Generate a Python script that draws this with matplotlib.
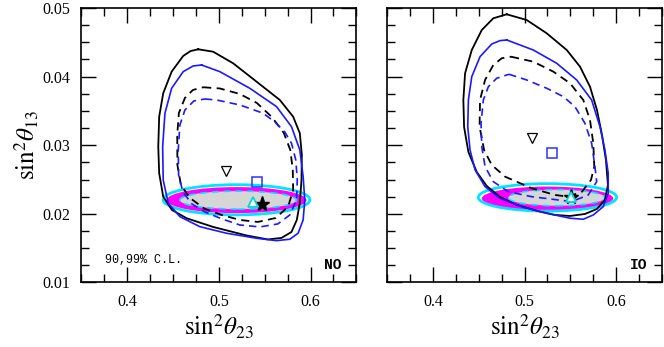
import numpy as np
import matplotlib.pyplot as plt
from matplotlib.patches import Ellipse
from matplotlib.ticker import MultipleLocator

plt.rcParams['font.family'] = 'Liberation Serif'
plt.rcParams['mathtext.fontset'] = 'stix'

# contours: (sin^2 th23, sin^2 th13)
no_black_solid = [
    (0.4774, 0.04398), (0.4937, 0.04363), (0.5155, 0.04194), (0.5411, 0.03926),
    (0.5665, 0.03659), (0.5810, 0.03416), (0.5883, 0.03174), (0.5905, 0.02858),
    (0.5901, 0.02494), (0.5883, 0.02159), (0.5850, 0.01911), (0.5792, 0.01736),
    (0.5683, 0.01649), (0.5534, 0.01627), (0.5301, 0.01685), (0.4937, 0.01809),
    (0.4647, 0.01936), (0.4487, 0.02057), (0.4392, 0.02251), (0.4348, 0.02591),
    (0.4338, 0.02979), (0.4348, 0.03416), (0.4392, 0.03757), (0.4484, 0.04072),
    (0.4610, 0.04301), (0.4690, 0.04372)]
no_blue_solid = [
    (0.4811, 0.04169), (0.5010, 0.04072), (0.5337, 0.03830), (0.5629, 0.03562),
    (0.5792, 0.03270), (0.5883, 0.02931), (0.5919, 0.02542), (0.5937, 0.02202),
    (0.5919, 0.01911), (0.5864, 0.01717), (0.5774, 0.01630), (0.5629, 0.01609),
    (0.5411, 0.01644), (0.5083, 0.01717), (0.4792, 0.01813), (0.4574, 0.01959),
    (0.4447, 0.02154), (0.4392, 0.02494), (0.4386, 0.02979), (0.4411, 0.03466),
    (0.4484, 0.03830), (0.4610, 0.04072), (0.4719, 0.04155)]
no_black_dashed = [
    (0.4828, 0.03845), (0.5010, 0.03827), (0.5228, 0.03747), (0.5414, 0.03616),
    (0.5577, 0.03412), (0.5708, 0.03179), (0.5779, 0.02931), (0.5806, 0.02640),
    (0.5810, 0.02348), (0.5755, 0.02105), (0.5621, 0.01940), (0.5425, 0.01882),
    (0.5228, 0.01911), (0.5029, 0.01984), (0.4847, 0.02071), (0.4683, 0.02232),
    (0.4585, 0.02421), (0.4547, 0.02712), (0.4545, 0.03150), (0.4563, 0.03470),
    (0.4629, 0.03689), (0.4716, 0.03805)]
no_blue_dashed = [
    (0.4847, 0.03674), (0.4974, 0.03659), (0.5228, 0.03587), (0.5483, 0.03466),
    (0.5610, 0.03339), (0.5719, 0.03193), (0.5792, 0.03029), (0.5839, 0.02785),
    (0.5855, 0.02494), (0.5847, 0.02202), (0.5774, 0.01984), (0.5643, 0.01853),
    (0.5447, 0.01809), (0.5228, 0.01838), (0.5032, 0.01926), (0.4847, 0.02028),
    (0.4705, 0.02144), (0.4607, 0.02319), (0.4560, 0.02567), (0.4556, 0.02931),
    (0.4574, 0.03295), (0.4629, 0.03514), (0.4727, 0.03645)]

io_black_solid = [
    (0.4805, 0.04908), (0.5023, 0.04825), (0.5242, 0.04631), (0.5460, 0.04388),
    (0.5605, 0.04145), (0.5714, 0.03853), (0.5790, 0.03514), (0.5845, 0.03150),
    (0.5888, 0.02785), (0.5910, 0.02421), (0.5877, 0.02202), (0.5790, 0.02071),
    (0.5659, 0.01998), (0.5496, 0.01969), (0.5332, 0.01984), (0.5168, 0.02032),
    (0.4914, 0.02130), (0.4732, 0.02246), (0.4587, 0.02406), (0.4478, 0.02610),
    (0.4387, 0.02902), (0.4340, 0.03266), (0.4332, 0.03659), (0.4351, 0.04049),
    (0.4424, 0.04388), (0.4533, 0.04679), (0.4659, 0.04850)]
io_blue_solid = [
    (0.4805, 0.04534), (0.5095, 0.04388), (0.5351, 0.04194), (0.5569, 0.03951),
    (0.5732, 0.03659), (0.5823, 0.03270), (0.5877, 0.02931), (0.5913, 0.02591),
    (0.5913, 0.02300), (0.5859, 0.02105), (0.5750, 0.01984), (0.5641, 0.01921),
    (0.5496, 0.01936), (0.5242, 0.02009), (0.4986, 0.02096), (0.4732, 0.02227),
    (0.4569, 0.02396), (0.4460, 0.02640), (0.4405, 0.02931), (0.4380, 0.03270),
    (0.4387, 0.03659), (0.4424, 0.04000), (0.4514, 0.04290), (0.4642, 0.04475),
    (0.4732, 0.04524)]
io_black_dashed = [
    (0.4852, 0.04290), (0.5095, 0.04218), (0.5314, 0.04072), (0.5496, 0.03903),
    (0.5641, 0.03659), (0.5714, 0.03368), (0.5750, 0.03029), (0.5761, 0.02688),
    (0.5725, 0.02494), (0.5627, 0.02323), (0.5477, 0.02250), (0.5332, 0.02275),
    (0.5078, 0.02373), (0.4787, 0.02542), (0.4642, 0.02712), (0.4558, 0.02931),
    (0.4509, 0.03270), (0.4514, 0.03659), (0.4569, 0.03951), (0.4659, 0.04169),
    (0.4751, 0.04267)]
io_blue_dashed = [
    (0.4830, 0.04034), (0.5023, 0.03951), (0.5242, 0.03830), (0.5423, 0.03708),
    (0.5550, 0.03562), (0.5659, 0.03320), (0.5732, 0.03029), (0.5768, 0.02688),
    (0.5787, 0.02469), (0.5695, 0.02275), (0.5514, 0.02178), (0.5368, 0.02202),
    (0.5078, 0.02250), (0.4823, 0.02323), (0.4659, 0.02469), (0.4569, 0.02688),
    (0.4533, 0.02979), (0.4525, 0.03320), (0.4550, 0.03659), (0.4605, 0.03853),
    (0.4696, 0.03976)]

# reactor regions: (center x, center y, full width, full height)
no_cyan_ell = (0.5192, 0.02205, 0.160, 0.00440)
no_magenta_ell = (0.5192, 0.02200, 0.1527, 0.00380)
no_grey_ell = (0.5210, 0.02200, 0.1273, 0.00262)
io_cyan_ell = (0.5250, 0.02240, 0.151, 0.00400)
io_magenta_ell = (0.5250, 0.02225, 0.1435, 0.00345)
io_grey_ell = (0.5350, 0.02235, 0.1055, 0.00235)

# best-fit points
no_down_tri = (0.5076, 0.0262)
no_square = (0.5421, 0.0246)
no_up_tri = (0.5367, 0.0217)
no_star = (0.5465, 0.0215)
io_down_tri = (0.5085, 0.0311)
io_square = (0.5299, 0.0288)
io_up_tri = (0.5507, 0.0224)
io_star = (0.5507, 0.0224)


def closed(pts):
    a = np.array(pts)
    return np.vstack([a, a[:1]])


def draw_panel(ax, bs, bls, bd, bld, cyan, mag, grey, dtri, sq, utri, star, tag):
    ax.add_patch(Ellipse(mag[:2], mag[2], mag[3], facecolor='#ff00ff',
                         edgecolor='none', zorder=1))
    ax.add_patch(Ellipse(cyan[:2], cyan[2], cyan[3], facecolor='none',
                         edgecolor='#00e5ff', lw=2.0, zorder=1))
    ax.add_patch(Ellipse(grey[:2], grey[2], grey[3], facecolor='#d6d6d6',
                         edgecolor='#00e5ff', lw=1.2, ls=(0, (4, 3)), zorder=1.5))

    c = closed(bs)
    ax.plot(c[:, 0], c[:, 1], color='black', lw=1.3, zorder=3)
    c = closed(bls)
    ax.plot(c[:, 0], c[:, 1], color='#1a1aff', lw=1.2, zorder=3)
    c = closed(bd)
    ax.plot(c[:, 0], c[:, 1], color='black', lw=1.3, ls=(0, (4.5, 3)), zorder=3)
    c = closed(bld)
    ax.plot(c[:, 0], c[:, 1], color='#1a1aff', lw=1.2, ls=(0, (4.5, 3)), zorder=3)

    ax.plot(*star, marker='*', ms=11, color='black', mec='black', zorder=4)
    ax.plot(*utri, marker='^', ms=7, mfc='white', mec='#00d8d8', mew=1.3, zorder=5)
    ax.plot(*sq, marker='s', ms=6.5, mfc='none', mec='#3030ff', mew=1.1, zorder=5)
    ax.plot(*dtri, marker='v', ms=7, mfc='none', mec='black', mew=0.9, zorder=5)

    ax.set_xlim(0.35, 0.65)
    ax.set_ylim(0.01, 0.05)
    ax.xaxis.set_major_locator(MultipleLocator(0.1))
    ax.xaxis.set_minor_locator(MultipleLocator(0.025))
    ax.yaxis.set_major_locator(MultipleLocator(0.01))
    ax.yaxis.set_minor_locator(MultipleLocator(0.0025))
    ax.tick_params(which='both', direction='in', top=True, right=True,
                   labelsize=11.5, width=1.0)
    ax.tick_params(which='major', length=11, pad=8)
    ax.tick_params(which='minor', length=5.5)
    for s in ax.spines.values():
        s.set_linewidth(1.2)
    ax.set_xlabel(r'$\sin^2\!\theta_{23}$', fontsize=18, labelpad=2)
    ax.text(0.946, 0.064, tag, transform=ax.transAxes, ha='right', va='center',
            family='Liberation Mono', fontweight='bold', fontsize=10.5)


fig = plt.figure(figsize=(6.64, 3.47), dpi=100)
ax1 = fig.add_axes([0.1227, 0.186, 0.414, 0.791])
ax2 = fig.add_axes([0.583, 0.186, 0.414, 0.791])

draw_panel(ax1, no_black_solid, no_blue_solid, no_black_dashed, no_blue_dashed,
           no_cyan_ell, no_magenta_ell, no_grey_ell,
           no_down_tri, no_square, no_up_tri, no_star, 'NO')
draw_panel(ax2, io_black_solid, io_blue_solid, io_black_dashed, io_blue_dashed,
           io_cyan_ell, io_magenta_ell, io_grey_ell,
           io_down_tri, io_square, io_up_tri, io_star, 'IO')

ax1.set_ylabel(r'$\sin^2\!\theta_{13}$', fontsize=18, labelpad=1)
ax1.text(0.085, 0.082, '90,99% C.L.', transform=ax1.transAxes, ha='left',
         va='center', family='Liberation Mono', fontsize=8.5)
ax2.tick_params(labelleft=False)

fig.savefig('out.png', dpi=100)
